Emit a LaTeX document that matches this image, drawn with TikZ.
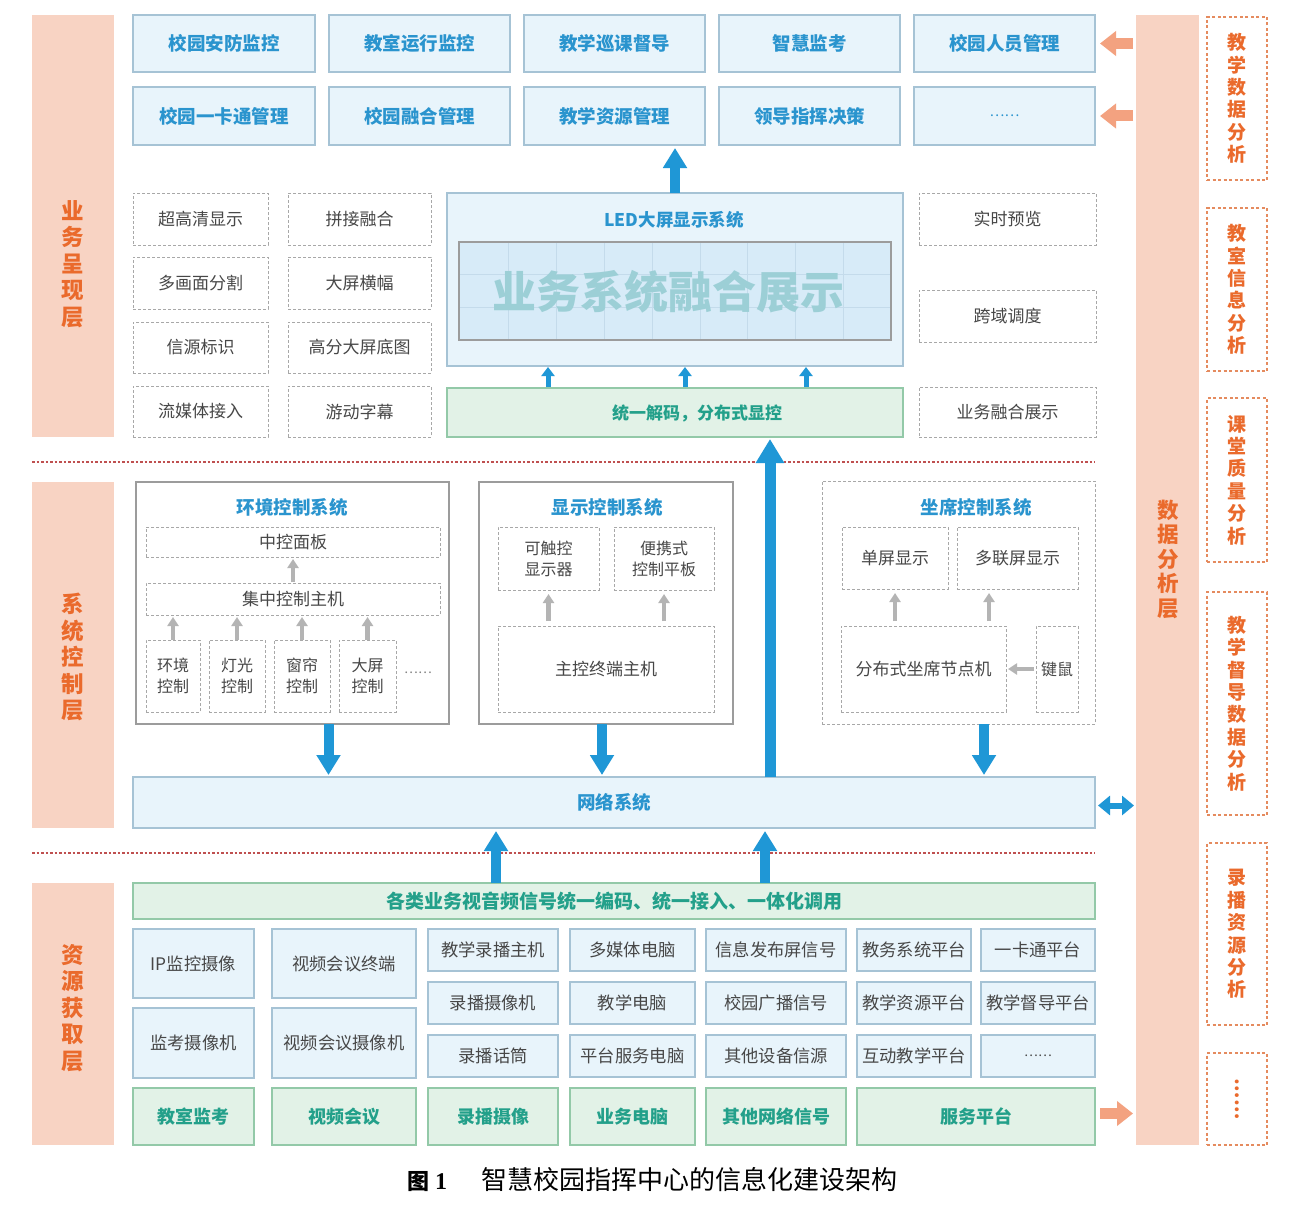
\documentclass[tikz,border=0pt]{standalone}
\usepackage{fontspec}
\setmainfont{Noto Sans CJK SC}
\newfontfamily\numfont{Liberation Serif}
\usetikzlibrary{arrows.meta}
\definecolor{salmon}{HTML}{F8D3C3}
\definecolor{otxt}{HTML}{EA6A2C}
\definecolor{odash}{HTML}{E58B5F}
\definecolor{bfill}{HTML}{E8F4FB}
\definecolor{bbord}{HTML}{A6C3D5}
\definecolor{btxt}{HTML}{2A94CE}
\definecolor{gfill}{HTML}{E2F2E7}
\definecolor{gbord}{HTML}{93C9A8}
\definecolor{gtxt}{HTML}{23A08A}
\definecolor{dgray}{HTML}{A8A8A8}
\definecolor{dtxt}{HTML}{474747}
\definecolor{sgray}{HTML}{9C9C9C}
\definecolor{ablue}{HTML}{1F97D6}
\definecolor{aorange}{HTML}{F3A280}
\definecolor{agray}{HTML}{B4B4B4}
\definecolor{sepred}{HTML}{BF5050}
\definecolor{scrfill}{HTML}{D7EBF8}
\definecolor{scrline}{HTML}{C4DBEB}
\definecolor{scrtxt}{HTML}{9CCFD6}
\newcommand\bx[7]{\node[#2,anchor=north west,minimum width={(#5-#3)*1pt},minimum height={(#6-#4)*1pt}] (#1) at (#3,#4) {#7};}
\begin{document}
\begin{tikzpicture}[x=1pt,y=-1pt,
  every node/.style={inner sep=0pt,outer sep=0pt,align=center},
  tb/.style={draw=bbord,fill=bfill,line width=1.2pt,text=btxt,font=\fontsize{18.5}{22}\selectfont\bfseries},
  db/.style={draw=dgray,dash pattern=on 3pt off 2pt,line width=1pt,text=dtxt,font=\fontsize{17}{21}\selectfont},
  sdb/.style={db,font=\fontsize{16}{21}\selectfont},
  gbx/.style={draw=gbord,fill=gfill,line width=1.2pt,text=gtxt,font=\fontsize{18}{22}\selectfont\bfseries},
  lbx/.style={draw=bbord,fill=bfill,line width=1.1pt,text=dtxt,font=\fontsize{17.3}{21}\selectfont},
  sbx/.style={draw=sgray,fill=white,line width=1.3pt},
  lay/.style={fill=salmon},
  laytxt/.style={text=otxt,font=\fontsize{22.5}{26.5}\selectfont\bfseries},
  rbx/.style={draw=odash,dash pattern=on 3pt off 2.5pt,line width=1.2pt,text=otxt,font=\fontsize{19}{22.4}\selectfont\bfseries},
  ttl/.style={text=btxt,font=\fontsize{18.5}{22}\selectfont\bfseries},
  barrS/.style={draw=ablue,line width=5pt,-{Triangle[width=13pt,length=9pt]}},
  barrM/.style={draw=ablue,line width=10pt,-{Triangle[width=23pt,length=20pt]}},
  barrL/.style={draw=ablue,line width=11pt,-{Triangle[width=27pt,length=24pt]}},
  oarr/.style={draw=aorange,line width=11pt,-{Triangle[width=24pt,length=16pt]}},
  garr/.style={draw=agray,line width=4.5pt,-{Triangle[width=11pt,length=9pt]}},
  darr/.style={draw=ablue,line width=6pt,{Triangle[width=19pt,length=12pt]}-{Triangle[width=19pt,length=12pt]}},
  sepl/.style={draw=sepred,line width=1.5pt,dash pattern=on 2.5pt off 2pt},
  gridl/.style={draw=scrline,line width=0.7pt}]
\fill[white] (0,0) rectangle (1300,1220);
\useasboundingbox (0,0) rectangle (1300,1220);
% layer bars
\bx{L1}{lay}{32}{15}{114}{437}{}
\bx{L2}{lay}{32}{482}{114}{828}{}
\bx{L3}{lay}{32}{883}{114}{1145}{}
\node[laytxt] (L1t) at (73,264) {业\\务\\呈\\现\\层};
\node[laytxt] (L2t) at (73,657) {系\\统\\控\\制\\层};
\node[laytxt] (L3t) at (73,1008) {资\\源\\获\\取\\层};
\bx{data}{lay}{1136}{15}{1199}{1145}{}
\node[laytxt,font=\fontsize{21.5}{24.5}\selectfont\bfseries] (datat) at (1168,559) {数\\据\\分\\析\\层};
% right column
\bx{R1}{rbx}{1207}{17}{1267}{180}{教\\学\\数\\据\\分\\析}
\bx{R2}{rbx}{1207}{208}{1267}{371}{教\\室\\信\\息\\分\\析}
\bx{R3}{rbx}{1207}{398}{1267}{562}{课\\堂\\质\\量\\分\\析}
\bx{R4}{rbx}{1207}{592}{1267}{815}{教\\学\\督\\导\\数\\据\\分\\析}
\bx{R5}{rbx}{1207}{843}{1267}{1025}{录\\播\\资\\源\\分\\析}
\bx{R6}{rbx}{1207}{1053}{1267}{1145}{}
\node[text=otxt,font=\fontsize{18}{20}\selectfont\bfseries,rotate=-90] (R6t) at (R6.center) {……};
% top rows
\bx{a1}{tb}{133}{15}{315}{72}{校园安防监控}
\bx{a2}{tb}{329}{15}{510}{72}{教室运行监控}
\bx{a3}{tb}{524}{15}{705}{72}{教学巡课督导}
\bx{a4}{tb}{719}{15}{900}{72}{智慧监考}
\bx{a5}{tb}{914}{15}{1095}{72}{校园人员管理}
\bx{b1}{tb}{133}{87}{315}{145}{校园一卡通管理}
\bx{b2}{tb}{329}{87}{510}{145}{校园融合管理}
\bx{b3}{tb}{524}{87}{705}{145}{教学资源管理}
\bx{b4}{tb}{719}{87}{900}{145}{领导指挥决策}
\bx{b5}{tb}{914}{87}{1095}{145}{\fontsize{14}{16}\selectfont\mdseries ……}
% left dashed
\bx{c11}{db}{133}{193}{268}{245}{超高清显示}
\bx{c12}{db}{288}{193}{431}{245}{拼接融合}
\bx{c21}{db}{133}{257}{268}{309}{多画面分割}
\bx{c22}{db}{288}{257}{431}{309}{大屏横幅}
\bx{c31}{db}{133}{322}{268}{373}{信源标识}
\bx{c32}{db}{288}{322}{431}{373}{高分大屏底图}
\bx{c41}{db}{133}{386}{268}{437}{流媒体接入}
\bx{c42}{db}{288}{386}{431}{437}{游动字幕}
% right dashed
\bx{e1}{db}{919}{193}{1096}{245}{实时预览}
\bx{e2}{db}{919}{290}{1096}{342}{跨域调度}
\bx{e3}{db}{919}{387}{1096}{437}{业务融合展示}
% LED
\bx{led}{draw=bbord,fill=bfill,line width=1.2pt}{447}{193}{903}{366}{}
\node[ttl,font=\fontsize{17.5}{21}\selectfont\bfseries] (ledt) at (674,220) {LED大屏显示系统};
\bx{scr}{draw=sgray,fill=scrfill,line width=1.6pt}{459}{242}{891}{340}{}
\foreach \x in {508,556,604,652,700,747,795,843} \draw[gridl] (\x,243) -- (\x,339);
\draw[gridl] (460,274) -- (890,274);
\draw[gridl] (460,307) -- (890,307);
\node[text=scrtxt,font=\fontsize{44}{48}\selectfont\bfseries] (scrt) at (668,292) {业务系统融合展示};
\draw[sgray,line width=1.6pt] (scr.north west) rectangle (scr.south east);
\bx{dec}{gbx}{447}{388}{903}{437}{}
\node[text=gtxt,font=\fontsize{17}{21}\selectfont\bfseries] (dect) at (697,413) {统一解码，分布式显控};
% separators
\draw[sepl] (32,462) -- (1095,462);
\draw[sepl] (32,853) -- (1095,853);
% environment control
\bx{env}{sbx}{136}{482}{449}{724}{}
\node[ttl] (envt) at (292,507) {环境控制系统};
\bx{zk}{db}{146}{527}{440}{557}{中控面板}
\bx{jz}{db}{146}{583}{440}{615}{集中控制主机}
\bx{ec1}{sdb}{146}{640}{200}{712}{环境\\控制}
\bx{ec2}{sdb}{209}{640}{265}{712}{灯光\\控制}
\bx{ec3}{sdb}{274}{640}{330}{712}{窗帘\\控制}
\bx{ec4}{sdb}{339}{640}{396}{712}{大屏\\控制}
\node[text=gray,font=\fontsize{13}{15}\selectfont] (ecm) at (418,673) {……};
% display control
\bx{disp}{sbx}{479}{482}{733}{724}{}
\node[ttl] (dispt) at (607,507) {显示控制系统};
\bx{dc1}{sdb}{498}{527}{599}{590}{可触控\\显示器}
\bx{dc2}{sdb}{614}{527}{714}{590}{便携式\\控制平板}
\bx{zm}{db}{498}{626}{714}{712}{主控终端主机}
% seat control
\bx{seat}{db}{822}{481}{1095}{724}{}
\node[ttl] (seatt) at (976,507) {坐席控制系统};
\bx{ss1}{db}{842}{527}{948}{589}{单屏显示}
\bx{ss2}{db}{957}{527}{1078}{589}{多联屏显示}
\bx{fb}{db}{841}{626}{1006}{712}{分布式坐席节点机}
\bx{jm}{sdb}{1036}{626}{1078}{712}{键鼠}
% network
\bx{net}{tb}{133}{777}{1095}{828}{网络系统}
% bottom
\bx{gbar}{gbx}{133}{883}{1095}{919}{\fontsize{19}{22}\selectfont 各类业务视音频信号统一编码、统一接入、一体化调用}
\bx{p1}{lbx}{133}{929}{254}{998}{IP监控摄像}
\bx{p2}{lbx}{133}{1008}{254}{1078}{监考摄像机}
\bx{q1}{lbx}{272}{929}{416}{998}{视频会议终端}
\bx{q2}{lbx}{272}{1008}{416}{1078}{视频会议摄像机}
\bx{r1}{lbx}{428}{929}{558}{971}{教学录播主机}
\bx{r2}{lbx}{428}{982}{558}{1024}{录播摄像机}
\bx{r3}{lbx}{428}{1035}{558}{1077}{录播话筒}
\bx{s1}{lbx}{570}{929}{695}{971}{多媒体电脑}
\bx{s2}{lbx}{570}{982}{695}{1024}{教学电脑}
\bx{s3}{lbx}{570}{1035}{695}{1077}{平台服务电脑}
\bx{t1}{lbx}{706}{929}{846}{971}{信息发布屏信号}
\bx{t2}{lbx}{706}{982}{846}{1024}{校园广播信号}
\bx{t3}{lbx}{706}{1035}{846}{1077}{其他设备信源}
\bx{u1}{lbx}{857}{929}{971}{971}{教务系统平台}
\bx{u2}{lbx}{857}{982}{971}{1024}{教学资源平台}
\bx{u3}{lbx}{857}{1035}{971}{1077}{互动教学平台}
\bx{v1}{lbx}{981}{929}{1095}{971}{一卡通平台}
\bx{v2}{lbx}{981}{982}{1095}{1024}{教学督导平台}
\bx{v3}{lbx}{981}{1035}{1095}{1077}{\fontsize{13}{15}\selectfont ……}
\bx{w1}{gbx}{133}{1088}{254}{1145}{教室监考}
\bx{w2}{gbx}{272}{1088}{416}{1145}{视频会议}
\bx{w3}{gbx}{428}{1088}{558}{1145}{录播摄像}
\bx{w4}{gbx}{570}{1088}{695}{1145}{业务电脑}
\bx{w5}{gbx}{706}{1088}{846}{1145}{其他网络信号}
\bx{svc}{gbx}{857}{1088}{1095}{1145}{服务平台}
% caption
\node[anchor=west] (cap) at (407,1180) {{\fontsize{22}{26}\selectfont\bfseries 图}\hspace{6pt}{\numfont\bfseries\fontsize{24}{26}\selectfont 1}\hspace{34pt}{\fontsize{26}{28}\selectfont 智慧校园指挥中心的信息化建设架构}};
% ---- connectors ----
\draw[barrM,shorten >=3pt] (led.north) -- (led.north |- b3.south);
\coordinate (d1) at ([xshift=-127pt]dec.north);
\coordinate (d2) at ([xshift=10pt]dec.north);
\coordinate (d3) at ([xshift=131pt]dec.north);
\foreach \c in {d1,d2,d3} \draw[barrS,shorten <=1pt,shorten >=1pt] (\c) -- (\c |- led.south);
\coordinate (bg) at ([xshift=156pt]net.north);
\draw[barrL,shorten >=2pt] (bg) -- (bg |- dec.south);
\coordinate (e1a) at ([xshift=36pt]env.south);
\coordinate (e2a) at ([xshift=-4pt]disp.south);
\coordinate (e3a) at ([xshift=25.5pt]seat.south);
\foreach \c in {e1a,e2a,e3a} \draw[barrM,shorten >=2pt] (\c) -- (\c |- net.north);
\coordinate (ua1) at ([xshift=-118pt]gbar.north);
\coordinate (ua2) at ([xshift=151pt]gbar.north);
\foreach \c in {ua1,ua2} \draw[barrM,shorten >=3pt] (\c) -- (\c |- net.south);
% gray arrows
\foreach \c in {ec1,ec2,ec3,ec4} \draw[garr,shorten >=2pt] (\c.north) -- (\c.north |- jz.south);
\draw[garr,shorten <=1pt,shorten >=2pt] (jz.north) -- (jz.north |- zk.south);
\foreach \c in {dc1,dc2} \draw[garr,shorten <=5pt,shorten >=4pt] (\c.south |- zm.north) -- (\c.south);
\coordinate (sa1) at ([xshift=-28.5pt]fb.north);
\coordinate (sa2) at ([xshift=65.5pt]fb.north);
\foreach \c in {sa1,sa2} \draw[garr,shorten <=5pt,shorten >=4pt] (\c) -- (\c |- ss1.south);
\draw[garr,shorten <=2pt,shorten >=2pt] (jm.west) -- (jm.west -| fb.east);
% orange arrows
\draw[oarr,shorten <=3pt,shorten >=5pt] (a5.east -| data.west) -- (a5.east);
\draw[oarr,shorten <=3pt,shorten >=5pt] (b5.east -| data.west) -- (b5.east);
\draw[oarr,shorten <=5pt,shorten >=3pt] ([yshift=3pt]svc.east) -- ([yshift=3pt]svc.east -| data.west);
\draw[darr,shorten <=3pt,shorten >=2pt] ([yshift=-3pt]net.east) -- ([yshift=-3pt]net.east -| data.west);
\end{tikzpicture}
\end{document}
